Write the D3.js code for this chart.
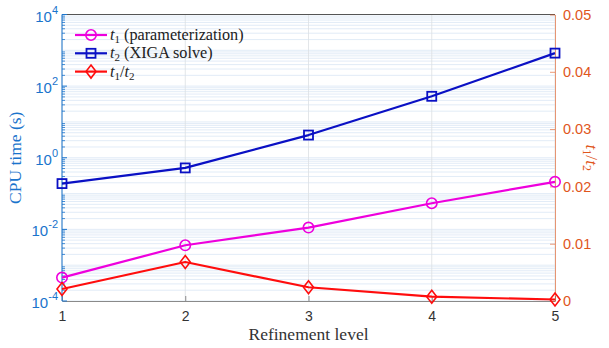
<!DOCTYPE html>
<html>
<head>
<meta charset="utf-8">
<script src="https://cdn.jsdelivr.net/npm/d3@7"></script>
<style>
  html, body { margin: 0; padding: 0; background: #fff; }
  svg { display: block; }
</style>
</head>
<body>
<svg id="chart" width="609" height="348"></svg>
<script>
// Refinement levels and timings
const levels = [1, 2, 3, 4, 5];
const t1Param = [0.00045, 0.0036, 0.0112, 0.0536, 0.213];   // t1 (parameterization), s
const t2Solve = [0.19, 0.52, 4.3, 52, 835];                  // t2 (XIGA solve), s
const ratio   = [0.0021, 0.0068, 0.0024, 0.00075, 0.00026];  // t1/t2
const leftTicks = [-4, -2, 0, 2, 4];                          // decade exponents
const rightTicks = [0, 0.01, 0.02, 0.03, 0.04, 0.05];

const W = 609, H = 348;
const m = { left: 62, right: 54, top: 14.5, bottom: 47 };
const iw = W - m.left - m.right, ih = H - m.top - m.bottom;

const cBlueAxis = "#1a74cc";
const cOrange = "#e0561c";
const cT1 = "#ee00dd";
const cT2 = "#0a10c4";
const cRatio = "#ff0d0d";

const svg = d3.select("#chart");
const g = svg.append("g").attr("transform", `translate(${m.left},${m.top})`);

const x = d3.scaleLinear().domain([1, 5]).range([0, iw]);
const yL = d3.scaleLog().domain([1e-4, 1e4]).range([ih, 0]);
const yR = d3.scaleLinear().domain([0, 0.05]).range([ih, 0]);

// minor log grid (1..9 within each decade)
const minorVals = [];
for (let e = -4; e < 4; e++) for (let k = 1; k <= 9; k++) minorVals.push(k * Math.pow(10, e));
g.append("g").selectAll("line").data(minorVals).join("line")
  .attr("x1", 0).attr("x2", iw)
  .attr("y1", d => yL(d)).attr("y2", d => yL(d))
  .attr("stroke", "#cfe0f2").attr("stroke-width", 0.8).attr("opacity", 0.75);

// vertical grid at x ticks
g.append("g").selectAll("line").data(levels).join("line")
  .attr("x1", d => x(d)).attr("x2", d => x(d))
  .attr("y1", 0).attr("y2", ih)
  .attr("stroke", "#dcdfe3").attr("stroke-width", 0.8);

// top box edge
g.append("line").attr("x1", 0).attr("x2", iw).attr("y1", 0).attr("y2", 0)
  .attr("stroke", "#555").attr("stroke-width", 1);

// bottom axis
const xAxis = d3.axisBottom(x).tickValues(levels).tickFormat(d3.format("d"))
  .tickSizeInner(-5).tickSizeOuter(0).tickPadding(10);
const gx = g.append("g").attr("transform", `translate(0,${ih})`).call(xAxis);
gx.select(".domain").attr("stroke", "#8a8a8a");
gx.selectAll(".tick line").attr("stroke", "#8a8a8a");
gx.selectAll("text").attr("font-family", "Liberation Sans, Arial, sans-serif")
  .attr("font-size", 14).attr("fill", "#333");

// left log axis
const gl = g.append("g");
gl.append("line").attr("x1", 0).attr("x2", 0).attr("y1", 0).attr("y2", ih)
  .attr("stroke", cBlueAxis).attr("stroke-width", 1);
gl.selectAll("line.minor").data(minorVals.filter(v => Math.abs(Math.log10(v) % 1) > 1e-9)).join("line")
  .attr("class", "minor")
  .attr("x1", 0).attr("x2", 3).attr("y1", d => yL(d)).attr("y2", d => yL(d))
  .attr("stroke", cBlueAxis).attr("stroke-width", 0.8);
gl.selectAll("line.major").data(leftTicks).join("line")
  .attr("class", "major")
  .attr("x1", 0).attr("x2", 5).attr("y1", d => yL(Math.pow(10, d))).attr("y2", d => yL(Math.pow(10, d)))
  .attr("stroke", cBlueAxis).attr("stroke-width", 1);
const ltext = gl.selectAll("text").data(leftTicks).join("text")
  .attr("x", -4).attr("y", d => yL(Math.pow(10, d)) + 7)
  .attr("text-anchor", "end")
  .attr("font-family", "Liberation Sans, Arial, sans-serif")
  .attr("fill", cBlueAxis);
ltext.append("tspan").attr("font-size", 15).text("10");
ltext.append("tspan").attr("font-size", 11).attr("dy", -8).text(d => d < 0 ? "-" + Math.abs(d) : d);

// right linear axis
const yAxisR = d3.axisRight(yR).tickValues(rightTicks)
  .tickFormat(d => d === 0 ? "0" : d3.format(".2f")(d))
  .tickSizeInner(-5).tickSizeOuter(0).tickPadding(8);
const gr = g.append("g").attr("transform", `translate(${iw},0)`).call(yAxisR);
gr.select(".domain").attr("stroke", cOrange).attr("stroke-opacity", 0.6);
gr.selectAll(".tick line").attr("stroke", cOrange).attr("stroke-opacity", 0.6);
gr.selectAll("text").attr("font-family", "Liberation Sans, Arial, sans-serif")
  .attr("font-size", 14.5).attr("fill", cOrange);

// series
const series = [
  { vals: t1Param, y: v => yL(v), color: cT1, marker: "circle" },
  { vals: t2Solve, y: v => yL(v), color: cT2, marker: "square" },
  { vals: ratio, y: v => yR(v), color: cRatio, marker: "diamond" }
];

function drawMarker(sel, kind, color) {
  if (kind === "circle") {
    sel.append("circle").attr("r", 5.2).attr("fill", "none").attr("stroke", color).attr("stroke-width", 1.6);
  } else if (kind === "square") {
    sel.append("rect").attr("x", -4.5).attr("y", -4.5).attr("width", 9).attr("height", 9)
      .attr("fill", "none").attr("stroke", color).attr("stroke-width", 1.8);
  } else {
    sel.append("path").attr("d", "M0,-6.5L5,0L0,6.5L-5,0Z")
      .attr("fill", "none").attr("stroke", color).attr("stroke-width", 1.6);
  }
}

series.forEach(s => {
  const line = d3.line().x((d, i) => x(levels[i])).y(d => s.y(d));
  g.append("path").datum(s.vals).attr("d", line)
    .attr("fill", "none").attr("stroke", s.color).attr("stroke-width", 2.2)
    .attr("stroke-linejoin", "round");
  s.vals.forEach((v, i) => {
    const mk = g.append("g").attr("transform", `translate(${x(levels[i])},${s.y(v)})`);
    drawMarker(mk, s.marker, s.color);
  });
});

// legend
const serif = "Liberation Serif, 'DejaVu Serif', serif";
const legendRows = [
  { color: cT1, marker: "circle", sub: "1", rest: " (parameterization)" },
  { color: cT2, marker: "square", sub: "2", rest: " (XIGA solve)" },
  { color: cRatio, marker: "diamond", sub: "1", rest: null }
];
const lg = svg.append("g").attr("transform", "translate(75,35)");
legendRows.forEach((r, i) => {
  const row = lg.append("g").attr("transform", `translate(0,${i * 18.3})`);
  row.append("line").attr("x1", 0).attr("x2", 32).attr("y1", 0).attr("y2", 0)
    .attr("stroke", r.color).attr("stroke-width", 2.2);
  const mk = row.append("g").attr("transform", "translate(16,0)");
  drawMarker(mk, r.marker, r.color);
  const t = row.append("text").attr("x", 35).attr("y", 5)
    .attr("font-family", serif).attr("font-size", 16.2).attr("fill", "#222");
  t.append("tspan").attr("font-style", "italic").text("t");
  t.append("tspan").attr("font-size", 11).attr("dy", 3).text(r.sub);
  if (r.rest) {
    t.append("tspan").attr("dy", -3).text(r.rest);
  } else {
    t.append("tspan").attr("dy", -3).text("/");
    t.append("tspan").attr("font-style", "italic").text("t");
    t.append("tspan").attr("font-size", 11).attr("dy", 3).text("2");
  }
});

// axis titles
svg.append("text")
  .attr("transform", `translate(21,${m.top + ih / 2}) rotate(-90)`)
  .attr("text-anchor", "middle")
  .attr("font-family", serif).attr("font-size", 17.5).attr("fill", cBlueAxis)
  .text("CPU time (s)");

const rt = svg.append("text")
  .attr("transform", `translate(586,${m.top + ih / 2}) rotate(90)`)
  .attr("text-anchor", "middle")
  .attr("font-family", serif).attr("font-size", 17.5).attr("fill", cOrange);
rt.append("tspan").attr("font-style", "italic").text("t");
rt.append("tspan").attr("font-size", 12).attr("dy", 3).text("1");
rt.append("tspan").attr("dy", -3).text("/");
rt.append("tspan").attr("font-style", "italic").text("t");
rt.append("tspan").attr("font-size", 12).attr("dy", 3).text("2");

svg.append("text")
  .attr("x", m.left + iw / 2).attr("y", 340)
  .attr("text-anchor", "middle")
  .attr("font-family", serif).attr("font-size", 17.5).attr("fill", "#333")
  .text("Refinement level");
</script>
</body>
</html>
